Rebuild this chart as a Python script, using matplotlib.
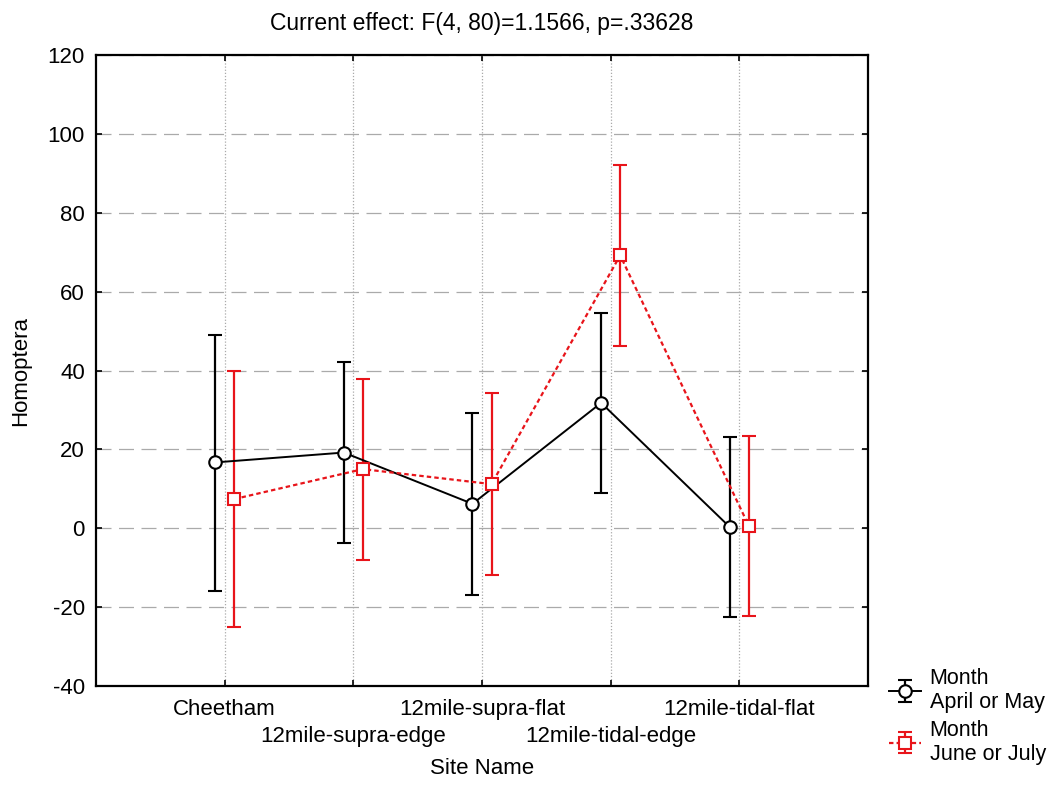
import matplotlib
matplotlib.use("Agg")
import matplotlib.pyplot as plt
import numpy as np

plt.rcParams['font.family'] = ['Liberation Sans', 'DejaVu Sans']
plt.rcParams['axes.unicode_minus'] = False

sites = ["Cheetham", "12mile-supra-edge", "12mile-supra-flat", "12mile-tidal-edge", "12mile-tidal-flat"]
apr_mean = [16.7, 19.2, 6.2, 31.8, 0.3]
apr_lo = [-16.0, -3.7, -16.8, 8.9, -22.5]
apr_hi = [49.0, 42.2, 29.2, 54.7, 23.2]
jun_mean = [7.4, 15.0, 11.2, 69.2, 0.6]
jun_lo = [-25.0, -8.0, -11.8, 46.3, -22.3]
jun_hi = [39.8, 37.8, 34.2, 92.1, 23.5]
title = "Current effect: F(4, 80)=1.1566, p=.33628"

fig = plt.figure(figsize=(10.54, 8.02), dpi=100)
ax = fig.add_axes([0.0911, 0.1446, 0.7324, 0.7868])

x = np.arange(1, len(sites) + 1)
off = 0.074

am = np.array(apr_mean); jm = np.array(jun_mean)
ae = [am - np.array(apr_lo), np.array(apr_hi) - am]
je = [jm - np.array(jun_lo), np.array(jun_hi) - jm]

h1 = ax.errorbar(x - off, am, yerr=ae, color='black', lw=1.4, elinewidth=1.6, capsize=5, capthick=1.6,
                 marker='o', ms=9, mfc='white', mec='black', mew=1.5, label="Month\nApril or May", zorder=3)
h2 = ax.errorbar(x + off, jm, yerr=je, color='#e8141a', lw=1.6, ls=(0, (2, 1.4)), elinewidth=1.6, capsize=5,
                 capthick=1.6, marker='s', ms=8, mfc='white', mec='#e8141a', mew=1.5,
                 label="Month\nJune or July", zorder=3)
for bar in h2[2]:
    bar.set_linestyle('-')

ax.set_xlim(0, 6)
ax.set_ylim(-40, 120)
ax.set_yticks(np.arange(-40, 121, 20))
ax.set_xticks(x[0::2])
ax.set_xticklabels(sites[0::2])
ax.set_xticks(x[1::2], minor=True)
ax.set_xticklabels(sites[1::2], minor=True)
ax.tick_params(which='both', direction='in', top=True, right=True, length=4, width=1.2, labelsize=16)
ax.tick_params(axis='y', pad=8)
ax.tick_params(axis='x', which='major', pad=9)
ax.tick_params(axis='x', which='minor', pad=29)
ax.grid(axis='y', color='#aaaaaa', ls=(0, (12, 6)), lw=0.9)
ax.grid(axis='x', which='both', color='#aaaaaa', ls=(0, (1, 1.5)), lw=0.9)
for s in ax.spines.values():
    s.set_linewidth(1.6)

ax.set_ylabel("Homoptera", fontsize=16, labelpad=12)
ax.set_xlabel("Site Name", fontsize=16, labelpad=8)
ax.set_title(title, fontsize=16.5, pad=18)

fig.legend(handles=[h1, h2], loc='upper left', bbox_to_anchor=(0.835, 0.178), frameon=False,
           fontsize=15.5, handlelength=1.5, handletextpad=0.4, labelspacing=0.3, borderaxespad=0)

fig.savefig("out.png", dpi=100)
